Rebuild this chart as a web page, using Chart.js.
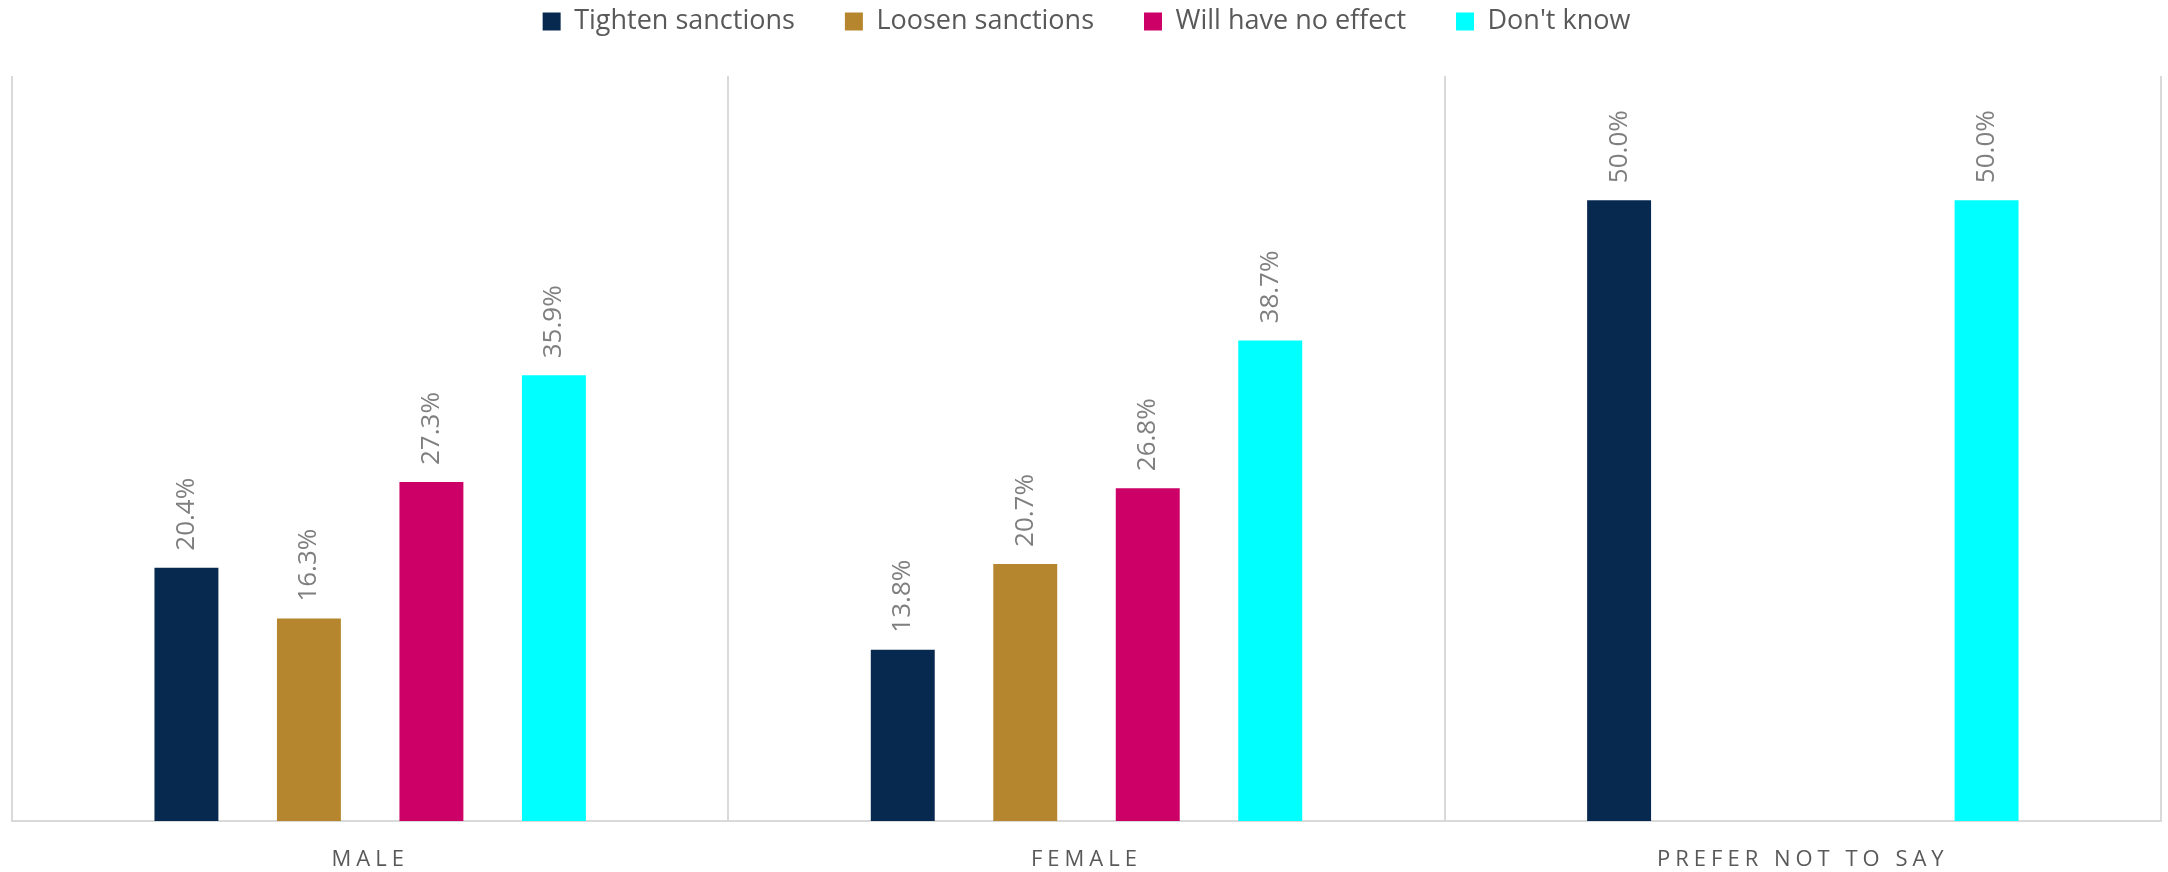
<!DOCTYPE html>
<html>
<head>
<meta charset="utf-8">
<script src="https://cdn.jsdelivr.net/npm/chart.js@4/dist/chart.umd.min.js"></script>
<style>
  html, body { margin: 0; padding: 0; background: #ffffff; }
  #wrap { width: 2168px; height: 872px; position: relative; }
</style>
</head>
<body>
<div id="wrap"><canvas id="c" width="2168" height="872"></canvas></div>
<script>
const categories = ['MALE', 'FEMALE', 'PREFER NOT TO SAY'];
const seriesNames = ['Tighten sanctions', 'Loosen sanctions', 'Will have no effect', "Don't know"];
const tightenValues = [20.4, 13.8, 50.0];
const loosenValues = [16.3, 20.7, null];
const noEffectValues = [27.3, 26.8, null];
const dontKnowValues = [35.9, 38.7, 50.0];
const seriesColors = ['#08294F', '#B5862D', '#CC0066', '#00FFFF'];

const seriesValues = [tightenValues, loosenValues, noEffectValues, dontKnowValues];

const LEGEND_TOP_OFFSET = -42;
const LEGEND_HEIGHT = 118;

const helperPlugin = {
  id: 'helpers',
  beforeLayout(chart) {
    const lg = chart.legend;
    if (lg && !lg._fixedHeight) {
      const origFit = lg.fit.bind(lg);
      lg.fit = function () { origFit(); this.height = LEGEND_HEIGHT; };
      lg._fixedHeight = true;
    }
  },
  beforeDraw(chart) {
    const xs = chart.scales.x;
    if (xs && !xs._spaced) {
      const orig = xs.drawLabels.bind(xs);
      xs.drawLabels = function (ca) {
        const ctx = this.ctx;
        ctx.save();
        ctx.letterSpacing = '5px';
        orig(ca);
        ctx.restore();
      };
      xs._spaced = true;
    }
  },
  afterDatasetsDraw(chart) {
    const ctx = chart.ctx;
    ctx.save();
    ctx.font = '26px "Liberation Sans Narrow", "Open Sans", sans-serif';
    ctx.fillStyle = '#7F7F7F';
    ctx.textAlign = 'left';
    ctx.textBaseline = 'middle';
    chart.data.datasets.forEach((ds, di) => {
      const meta = chart.getDatasetMeta(di);
      meta.data.forEach((bar, i) => {
        const v = ds.data[i];
        if (v === null || v === undefined) return;
        ctx.save();
        ctx.translate(bar.x, bar.y - 17);
        ctx.rotate(-Math.PI / 2);
        ctx.fillText(v.toFixed(1) + '%', 0, 0);
        ctx.restore();
      });
    });
    ctx.restore();
  }
};

new Chart(document.getElementById('c'), {
  type: 'bar',
  data: {
    labels: categories,
    datasets: seriesNames.map((name, i) => ({
      label: name,
      data: seriesValues[i],
      backgroundColor: seriesColors[i],
      borderWidth: 0,
      categoryPercentage: 0.684,
      barPercentage: 0.522
    }))
  },
  options: {
    responsive: false,
    animation: false,
    devicePixelRatio: 1,
    layout: { padding: { top: LEGEND_TOP_OFFSET, left: 12, right: 7, bottom: 0 } },
    plugins: {
      legend: {
        position: 'top',
        labels: {
          boxWidth: 18,
          boxHeight: 18,
          padding: 50,
          color: '#595959',
          font: { family: '"Open Sans", sans-serif', size: 27 }
        }
      },
      tooltip: { enabled: false }
    },
    scales: {
      x: {
        afterFit(scale) { scale.height = 51; },
        grid: {
          display: true,
          offset: true,
          drawTicks: false,
          color: '#D9D9D9',
          lineWidth: 2
        },
        border: { display: true, color: '#D9D9D9', width: 2 },
        ticks: {
          color: '#595959',
          padding: 26,
          font: { family: '"Open Sans", sans-serif', size: 22 }
        }
      },
      y: {
        display: false,
        min: 0,
        max: 60,
        grid: { display: false }
      }
    }
  },
  plugins: [helperPlugin]
});
</script>
</body>
</html>
